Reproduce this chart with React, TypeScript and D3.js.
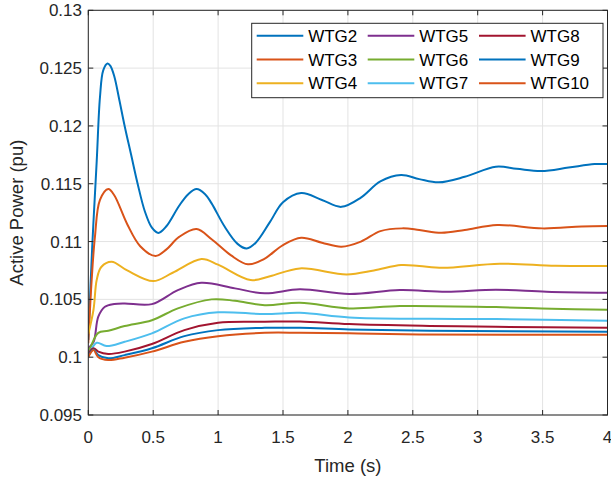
import React from "react";
import * as d3 from "d3";

const seriesNames = ["WTG2", "WTG3", "WTG4", "WTG5", "WTG6", "WTG7", "WTG8", "WTG9", "WTG10"];
const seriesColors = ["#0072BD", "#D95319", "#EDB120", "#7E2F8E", "#77AC30", "#4DBEEE", "#A2142F", "#0072BD", "#D95319"];

const xTicks = [0, 0.5, 1, 1.5, 2, 2.5, 3, 3.5, 4];
const yTicks = [0.095, 0.1, 0.105, 0.11, 0.115, 0.12, 0.125, 0.13];

const wtg2: [number, number][] = [[0,0.1015],[0.03,0.1095],[0.065,0.117],[0.09,0.1225],[0.115,0.1248],[0.148,0.1254],[0.17,0.1252],[0.2,0.1243],[0.24,0.1222],[0.28,0.1200],[0.33,0.1175],[0.38,0.1150],[0.436,0.1126],[0.49,0.1112],[0.54,0.11075],[0.6,0.1113],[0.7,0.1131],[0.77,0.1141],[0.834,0.11454],[0.9,0.1141],[0.95,0.1133],[1.05,0.1113],[1.15,0.1098],[1.22,0.1094],[1.29,0.1099],[1.4,0.1117],[1.5,0.1134],[1.64,0.1142],[1.8,0.1136],[1.95,0.1130],[2.1,0.1138],[2.25,0.1152],[2.41,0.11575],[2.55,0.1154],[2.7,0.11512],[2.9,0.1156],[3.14,0.11647],[3.3,0.1163],[3.49,0.1161],[3.7,0.1164],[3.9,0.1167],[4,0.1167]];
const wtg3: [number, number][] = [[0,0.1012],[0.026,0.1067],[0.051,0.1104],[0.09,0.1136],[0.154,0.11454],[0.2,0.1140],[0.3,0.1115],[0.4,0.1096],[0.518,0.10875],[0.6,0.1093],[0.7,0.1104],[0.834,0.11108],[0.95,0.1102],[1.1,0.1088],[1.23,0.10803],[1.35,0.10846],[1.5,0.1097],[1.64,0.11033],[1.8,0.1099],[1.95,0.10955],[2.1,0.1100],[2.25,0.1109],[2.42,0.11114],[2.55,0.1110],[2.72,0.11076],[2.9,0.1110],[3.15,0.11143],[3.5,0.11114],[3.8,0.1113],[4,0.11134]];
const wtg4: [number, number][] = [[0,0.102],[0.04,0.1041],[0.065,0.1067],[0.1,0.1078],[0.18,0.10825],[0.3,0.1075],[0.5,0.10658],[0.65,0.1073],[0.872,0.10849],[1.0,0.1080],[1.25,0.10667],[1.4,0.1070],[1.63,0.10768],[1.99,0.10716],[2.2,0.1075],[2.41,0.10797],[2.55,0.10788],[2.73,0.10773],[3.17,0.10808],[3.6,0.1079],[4,0.10788]];
const wtg5: [number, number][] = [[0,0.1008],[0.04,0.1013],[0.077,0.1035],[0.128,0.10436],[0.2,0.1046],[0.28,0.10465],[0.49,0.10459],[0.69,0.1058],[0.87,0.10644],[1.13,0.10595],[1.36,0.10552],[1.63,0.10587],[2.01,0.10546],[2.4,0.1058],[2.76,0.10566],[3.14,0.10583],[3.53,0.10566],[4,0.10557]];
const wtg6: [number, number][] = [[0,0.1005],[0.013,0.10077],[0.077,0.1021],[0.154,0.10228],[0.28,0.10269],[0.49,0.1032],[0.69,0.10422],[0.95,0.105],[1.13,0.10488],[1.36,0.1045],[1.63,0.10471],[2.01,0.10422],[2.4,0.10442],[3.14,0.10433],[3.57,0.10419],[4,0.1041]];
const wtg7: [number, number][] = [[0,0.1003],[0.013,0.1005],[0.065,0.10125],[0.14,0.10096],[0.28,0.10133],[0.49,0.10206],[0.74,0.10336],[1.0,0.10388],[1.36,0.10373],[1.63,0.10384],[2.01,0.10344],[2.63,0.10332],[3.14,0.1033],[4,0.10315]];
const wtg8: [number, number][] = [[0,0.1003],[0.04,0.10077],[0.077,0.10048],[0.154,0.10028],[0.28,0.10048],[0.49,0.10114],[0.74,0.10234],[1.0,0.10298],[1.36,0.10306],[1.63,0.10309],[2.01,0.10286],[2.63,0.1027],[3.14,0.10263],[4,0.10254]];
const wtg9: [number, number][] = [[0,0.1001],[0.04,0.10067],[0.077,0.10018],[0.154,0.0999],[0.28,0.10018],[0.49,0.10077],[0.74,0.10182],[1.0,0.10234],[1.36,0.10254],[1.63,0.10254],[2.01,0.1024],[2.63,0.10228],[4,0.1022]];
const wtg10: [number, number][] = [[0,0.1],[0.04,0.10062],[0.077,0.1],[0.154,0.09975],[0.28,0.09996],[0.49,0.10048],[0.74,0.10133],[1.0,0.10182],[1.36,0.10211],[1.63,0.10211],[2.01,0.10206],[2.55,0.10197],[4,0.10194]];

const seriesData = [wtg2, wtg3, wtg4, wtg5, wtg6, wtg7, wtg8, wtg9, wtg10];

const W = 611, H = 481;
const L = 88.3, R = 607.5, T = 10.3, B = 415;
const FONT = "'Liberation Sans', Arial, Helvetica, sans-serif";
const AX = "#262626";

export default function App() {
  const x = d3.scaleLinear().domain([0, 4]).range([L, R]);
  const y = d3.scaleLinear().domain([0.095, 0.13]).range([B, T]);
  const line = d3.line<[number, number]>().x(d => x(d[0])).y(d => y(d[1])).curve(d3.curveCatmullRom.alpha(0.5));

  const legCols = [256.7, 367.7, 479];
  const legRows = [35.7, 59.5, 83.3];

  return (
    <svg width={W} height={H} style={{ position: "absolute", left: 0, top: 0, background: "#fff" }} fontFamily={FONT}>
      <rect x={0} y={0} width={W} height={H} fill="#fff" />
      <defs>
        <clipPath id="plotclip"><rect x={L} y={T} width={R - L} height={B - T} /></clipPath>
      </defs>
      {xTicks.map(t => (
        <line key={"gx" + t} x1={x(t)} x2={x(t)} y1={T} y2={B} stroke="#e3e3e3" strokeWidth={1} />
      ))}
      {yTicks.map(t => (
        <line key={"gy" + t} x1={L} x2={R} y1={y(t)} y2={y(t)} stroke="#e3e3e3" strokeWidth={1} />
      ))}
      <g clipPath="url(#plotclip)">
        {seriesData.map((d, i) => (
          <path key={seriesNames[i]} d={line(d) || ""} fill="none" stroke={seriesColors[i]} strokeWidth={2} strokeLinejoin="round" />
        ))}
      </g>
      <rect x={L} y={T} width={R - L} height={B - T} fill="none" stroke={AX} strokeWidth={1} />
      {xTicks.map(t => (
        <g key={"tx" + t}>
          <line x1={x(t)} x2={x(t)} y1={B} y2={B - 5} stroke={AX} />
          <line x1={x(t)} x2={x(t)} y1={T} y2={T + 5} stroke={AX} />
          <text x={x(t)} y={443} textAnchor="middle" fontSize={17} fill={AX}>{String(t)}</text>
        </g>
      ))}
      {yTicks.map(t => (
        <g key={"ty" + t}>
          <line x1={L} x2={L + 5} y1={y(t)} y2={y(t)} stroke={AX} />
          <line x1={R} x2={R - 5} y1={y(t)} y2={y(t)} stroke={AX} />
          <text x={82} y={y(t) + 6} textAnchor="end" fontSize={17} fill={AX}>{String(+t.toFixed(3))}</text>
        </g>
      ))}
      <text x={(L + R) / 2} y={472} textAnchor="middle" fontSize={18.5} fill={AX}>Time (s)</text>
      <text transform={`translate(23,${(T + B) / 2}) rotate(-90)`} textAnchor="middle" fontSize={18.5} fill={AX}>Active Power (pu)</text>
      <rect x={251.7} y={23.3} width={603 - 251.7} height={97.7 - 23.3} fill="#fff" stroke={AX} strokeWidth={1} />
      {seriesNames.map((n, i) => {
        const col = Math.floor(i / 3);
        const row = i % 3;
        const lx = legCols[col];
        const ly = legRows[row];
        return (
          <g key={"lg" + n}>
            <line x1={lx} x2={lx + 46.6} y1={ly} y2={ly} stroke={seriesColors[i]} strokeWidth={2} />
            <text x={lx + 51.5} y={ly + 6} fontSize={17} fill="#000">{n}</text>
          </g>
        );
      })}
    </svg>
  );
}
